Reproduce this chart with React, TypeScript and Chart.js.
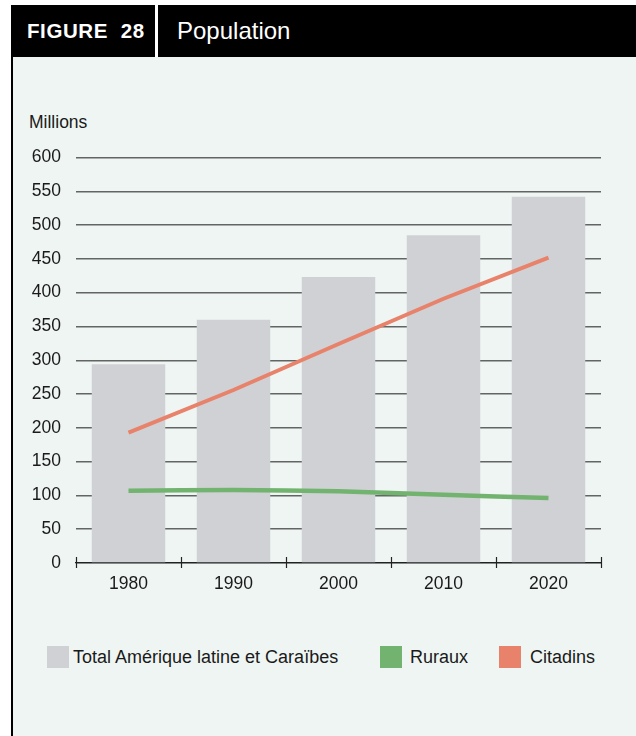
import React, { useEffect, useRef } from "react";
import { Chart, registerables } from "chart.js";

Chart.register(...registerables);

const years = ["1980", "1990", "2000", "2010", "2020"];
const totalPop = [294, 360, 423, 485, 542];
const rural = [107, 108, 106, 101, 96];
const urban = [193, 256, 324, 391, 452];
const seriesLabels = ["Total Amérique latine et Caraïbes", "Ruraux", "Citadins"];
const yMin = 0;
const yMax = 600;
const yStep = 50;

const FONT = "'Liberation Sans', Arial, Helvetica, sans-serif";
const BAR_COLOR = "#d0d1d5";
const RURAL_COLOR = "#72b46f";
const URBAN_COLOR = "#e8826a";
const BG = "#eff5f3";

const axisTicks = {
  id: "axisTicks",
  afterDraw(chart: any) {
    const x = chart.scales.x;
    const area = chart.chartArea;
    const ctx = chart.ctx;
    ctx.save();
    ctx.strokeStyle = "#222";
    ctx.lineWidth = 1.2;
    for (let i = 0; i <= years.length; i++) {
      const px = Math.round(x.getPixelForValue(i - 0.5)) + 0.5;
      ctx.beginPath();
      ctx.moveTo(px, area.bottom - 6);
      ctx.lineTo(px, area.bottom + 5);
      ctx.stroke();
    }
    ctx.restore();
  },
};

export default function App() {
  const ref = useRef<HTMLCanvasElement>(null);

  useEffect(() => {
    if (!ref.current) return;
    const chart = new Chart(ref.current, {
      type: "bar",
      data: {
        labels: years,
        datasets: [
          {
            type: "bar",
            label: seriesLabels[0],
            data: totalPop,
            backgroundColor: BAR_COLOR,
            barPercentage: 0.7,
            categoryPercentage: 1,
            order: 2,
          },
          {
            type: "line",
            label: seriesLabels[1],
            data: rural,
            borderColor: RURAL_COLOR,
            borderWidth: 4.5,
            pointRadius: 0,
            tension: 0.3,
            order: 1,
          },
          {
            type: "line",
            label: seriesLabels[2],
            data: urban,
            borderColor: URBAN_COLOR,
            borderWidth: 4,
            pointRadius: 0,
            tension: 0,
            order: 0,
          },
        ] as any,
      },
      options: {
        animation: false,
        responsive: false,
        maintainAspectRatio: false,
        layout: { padding: { top: 8, right: 35, left: 0, bottom: 0 } },
        plugins: {
          legend: { display: false },
          tooltip: { enabled: false },
          title: { display: false },
        },
        scales: {
          x: {
            grid: { display: false },
            border: { display: true, color: "#222", width: 1.2 },
            ticks: {
              color: "#1a1a1a",
              font: { family: FONT, size: 17.5 },
              padding: 3,
            },
            afterFit: (s: any) => {
              s.height = 37;
            },
          },
          y: {
            min: yMin,
            max: yMax,
            grid: { color: "#626564", lineWidth: 1.5, drawTicks: false },
            border: { display: false },
            ticks: {
              stepSize: yStep,
              color: "#1a1a1a",
              font: { family: FONT, size: 17.5 },
              padding: 15,
            },
            afterFit: (s: any) => {
              s.width = 76;
            },
          },
        },
      },
      plugins: [axisTicks],
    });
    return () => chart.destroy();
  }, []);

  const legendColors = [BAR_COLOR, RURAL_COLOR, URBAN_COLOR];
  const legendBoxX = [47, 380, 499];
  const legendTextX = [73, 410, 530];

  return (
    <div
      style={{
        position: "absolute",
        left: 0,
        top: 0,
        width: 636,
        height: 736,
        fontFamily: FONT,
        overflow: "hidden",
      }}
    >
      <div
        style={{
          position: "absolute",
          left: 11,
          top: 57,
          width: 623,
          height: 679,
          background: BG,
          borderLeft: "2px solid #000",
        }}
      />
      <div
        style={{
          position: "absolute",
          left: 11,
          top: 5,
          width: 625,
          height: 52,
          background: "#000",
        }}
      >
        <div
          style={{
            position: "absolute",
            left: 16,
            top: 0,
            height: 52,
            lineHeight: "52px",
            color: "#fff",
            fontWeight: 700,
            fontSize: 20.5,
            letterSpacing: 0.6,
            fontFamily: "'Liberation Sans', Arial, sans-serif",
          }}
        >
          FIGURE&nbsp;&nbsp;28
        </div>
        <div
          style={{
            position: "absolute",
            left: 144,
            top: 0,
            width: 2.5,
            height: 52,
            background: "#fff",
          }}
        />
        <div
          style={{
            position: "absolute",
            left: 166,
            top: 0,
            height: 52,
            lineHeight: "52px",
            color: "#fff",
            fontSize: 24,
          }}
        >
          Population
        </div>
      </div>
      <div
        style={{
          position: "absolute",
          left: 29,
          top: 112,
          fontSize: 17.5,
          lineHeight: "20px",
          color: "#1a1a1a",
        }}
      >
        Millions
      </div>
      <canvas
        ref={ref}
        width={636}
        height={468}
        style={{ position: "absolute", left: 0, top: 132, width: 636, height: 468 }}
      />
      {seriesLabels.map((lab, i) => (
        <React.Fragment key={lab}>
          <div
            style={{
              position: "absolute",
              left: legendBoxX[i],
              top: 646,
              width: 22,
              height: 22,
              background: legendColors[i],
            }}
          />
          <div
            style={{
              position: "absolute",
              left: legendTextX[i],
              top: 646,
              height: 22,
              lineHeight: "22px",
              fontSize: 18,
              color: "#1a1a1a",
              whiteSpace: "nowrap",
            }}
          >
            {lab}
          </div>
        </React.Fragment>
      ))}
    </div>
  );
}
